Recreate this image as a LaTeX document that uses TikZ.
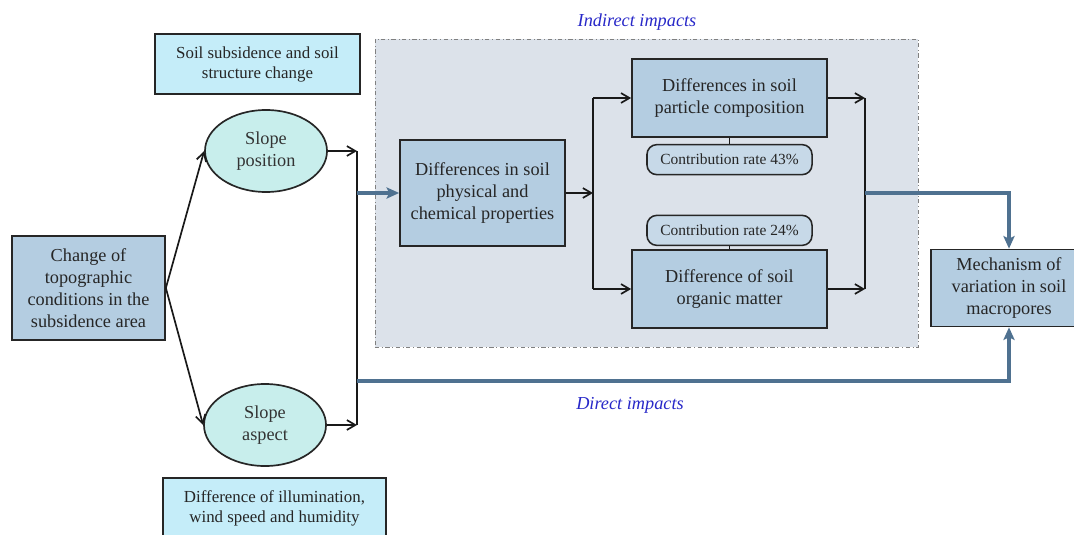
\documentclass[tikz,border=0pt]{standalone}
\usepackage{fontspec}
\setmainfont{Liberation Serif}
\newfontfamily\diagfont{Liberation Serif}
\usetikzlibrary{calc,shapes,arrows,arrows.meta,positioning}
\definecolor{boxblue}{RGB}{180,205,225}
\definecolor{mint}{RGB}{200,238,236}
\definecolor{notecyan}{RGB}{197,237,249}
\definecolor{regiongray}{RGB}{220,226,234}
\definecolor{flowblue}{RGB}{79,113,144}
\definecolor{labelblue}{RGB}{40,40,200}
\tikzset{
     factor node/.style={draw=black!85, fill=boxblue, line width=1.2pt, align=center, text=black!85,
        inner sep=1pt, font=\diagfont\fontsize{13}{15.6}\selectfont},
     slope node/.style={ellipse, draw=black!85, fill=mint, line width=1.2pt, align=center, text=black!80,
        minimum width=3.05cm, minimum height=2.05cm, inner sep=0pt, font=\diagfont\fontsize{13}{15.6}\selectfont},
     note node/.style={draw=black!85, fill=notecyan, line width=1.1pt, align=center, text=black!85,
        inner sep=1pt, font=\diagfont\fontsize{12}{14.2}\selectfont},
     rate node/.style={draw=black!85, fill=boxblue!75!white, rounded corners=7pt, line width=1.1pt, text=black!85,
        minimum width=4.125cm, minimum height=0.75cm, inner sep=0pt, font=\diagfont\fontsize{11}{13}\selectfont},
     region node/.style={draw=gray, fill=regiongray, dash dot, thin, inner sep=0pt},
     impact label/.style={text=labelblue, font=\diagfont\itshape\fontsize{13}{15.6}\selectfont},
      cfgedge/.style   = {black!90, line width=1.2pt, ->, >={Straight Barb[length=6pt,width=7pt]}},
      flowedge/.style = {flowblue, line width=2.4pt, ->, >={Stealth[length=9pt,width=8pt,inset=2pt]}},
      cfgline/.style = {black!90, line width=1.2pt},
    }

\begin{document}
\begin{tikzpicture}[x=0.025cm, y=-0.025cm]
            \useasboundingbox (0,0) rectangle (1074,534);
            \node [region node, minimum width=13.575cm, minimum height=7.7cm] (region) at (646.5,193) {};

            \node [factor node, minimum width=3.825cm, minimum height=2.6cm] (topo) at (88.5,288)
                  {Change of\\topographic\\conditions in the\\subsidence area};
            \node [note node, minimum width=5.125cm, minimum height=1.5cm] (subs) at (257.5,64)
                  {Soil subsidence and soil\\structure change};
            \node [slope node] (pos) at (266,151) {Slope\\position};
            \node [slope node] (asp) at (265,425) {Slope\\aspect};
            \node [note node, minimum width=5.575cm, minimum height=1.5cm] (illum) at (274.5,508)
                  {Difference of illumination,\\wind speed and humidity};
            \node [factor node, minimum width=4.125cm, minimum height=2.65cm] (phys) at (482.5,193)
                  {Differences in soil\\physical and\\chemical properties};
            \node [factor node, minimum width=4.875cm, minimum height=1.95cm] (part) at (729.5,98)
                  {Differences in soil\\particle composition};
            \node [factor node, minimum width=4.875cm, minimum height=1.95cm] (org) at (729.5,289)
                  {Difference of soil\\organic matter};
            \node [rate node] (rate43) [below=0.15cm of part] {Contribution rate 43\%};
            \node [rate node] (rate24) [above=0.075cm of org] {Contribution rate 24\%};
            \node [factor node, minimum width=3.9cm, minimum height=1.925cm] (mech) at (1009,288)
                  {Mechanism of\\variation in soil\\macropores};
            \node [impact label] (indirect) at (637,22) {Indirect impacts};
            \node [impact label] (direct) at (630,405) {Direct impacts};

            \coordinate (ja) at (357,151);
            \coordinate (jb) at (357,425);
            \coordinate (jc) at (357,193);
            \coordinate (jd) at (357,381);
            \coordinate (sa) at (593,98);
            \coordinate (sb) at (593,289);
            \coordinate (sc) at (593,193);
            \coordinate (ma) at (865,98);
            \coordinate (mb) at (865,289);
            \coordinate (mc) at (865,193);
            \coordinate (ka) at (1009,193);
            \coordinate (kb) at (1009,381);

            \path[cfgedge]
            (topo.east) edge (pos.west)
            (topo.east) edge (asp.west)
            (pos.east) edge (ja)
            (asp.east) edge (jb)
            (phys.east) edge (sc)
            (sa) edge (part.west)
            (sb) edge (org.west)
            (part.east) edge (ma)
            (org.east) edge (mb);
            \draw[cfgline] (ja) -- (jb);
            \draw[cfgline] (sa) -- (sb);
            \draw[cfgline] (ma) -- (mb);
            \draw[cfgline] (part.south) -- (rate43.north);
            \draw[cfgline] (rate24.south) -- (org.north);

            \draw[flowedge] (jc) -- (phys.west);
            \draw[flowedge] (mc) -- (ka) -- (mech.north);
            \draw[flowedge] (jd) -- (kb) -- (mech.south);
      \end{tikzpicture}
\end{document}
